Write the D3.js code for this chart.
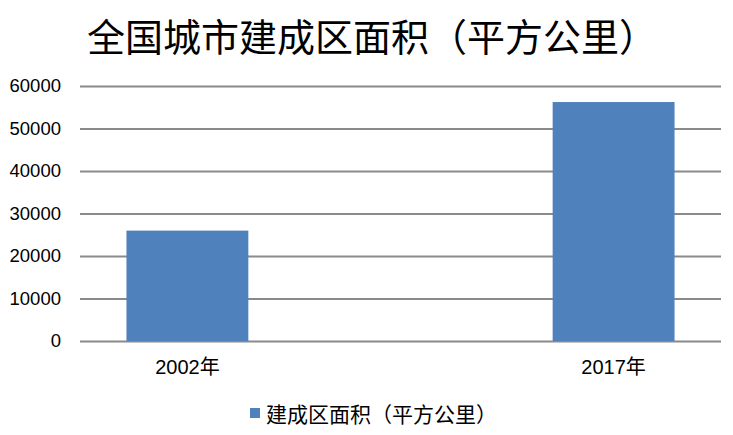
<!DOCTYPE html>
<html>
<head>
<meta charset="utf-8">
<script src="https://cdn.jsdelivr.net/npm/d3@7"></script>
<style>
	body { margin: 0; background: #fff; }
	svg { display: block; }
</style>
</head>
<body>
<div></div>
<script>
var title = "全国城市建成区面积（平方公里）",
	seriesName = "建成区面积（平方公里）",
	categories = ["2002年", "2017年"],
	areaValues = [25973, 56225],
	yTicks = [0, 10000, 20000, 30000, 40000, 50000, 60000];

var svgContainer,
	width = 733,
	height = 435,
	plot = { left: 80, right: 721, top: 86, bottom: 341 },
	barColor = "#4f81bd",
	gridColor = "#8a8a8a",
	latinFont = "'Liberation Sans', 'Noto Sans CJK SC', sans-serif",
	cjkFont = "'Noto Sans CJK SC', sans-serif";

function onLoad() {
	svgContainer = d3.select("div")
	.append("svg")
	.attr("width", width)
	.attr("height", height);

	svgContainer.append("rect")
	.attr("width", width)
	.attr("height", height)
	.attr("fill", "#fff");

	var xScale = d3.scaleBand()
	.domain(categories)
	.range([plot.left, plot.right])
	.paddingInner(0.714)
	.paddingOuter(0.109);

	var yScale = d3.scaleLinear()
	.domain([0, 60000])
	.range([plot.bottom, plot.top]);

	drawTitle();
	drawGrid(yScale);
	drawBars(xScale, yScale);
	drawAxes(xScale, yScale);
	drawLegend();
}

function drawTitle() {
	svgContainer.append("text")
	.attr("x", 87)
	.attr("y", 34)
	.attr("dominant-baseline", "central")
	.style("font-family", cjkFont)
	.style("font-size", "38px")
	.style("fill", "#000")
	.text(title);
}

function drawGrid(yScale) {
	var grid = svgContainer.append("g")
	.attr("transform", "translate(" + plot.left + ",0)")
	.call(d3.axisLeft(yScale)
		.tickValues(yTicks)
		.tickSize(-(plot.right - plot.left))
		.tickFormat(""));

	grid.select(".domain").remove();
	grid.selectAll("line")
	.attr("stroke", gridColor)
	.attr("stroke-width", 2);
}

function drawBars(xScale, yScale) {
	svgContainer.append("g")
	.selectAll("rect")
	.data(areaValues)
	.enter()
	.append("rect")
	.attr("x", (d, i) => xScale(categories[i]))
	.attr("y", d => yScale(d))
	.attr("width", xScale.bandwidth())
	.attr("height", d => yScale(0) - yScale(d))
	.attr("fill", barColor);
}

function drawAxes(xScale, yScale) {
	var yAxis = svgContainer.append("g")
	.attr("transform", "translate(" + plot.left + ",0)")
	.call(d3.axisLeft(yScale)
		.tickValues(yTicks)
		.tickSize(0)
		.tickPadding(19)
		.tickFormat(d3.format("d")));

	yAxis.select(".domain").remove();
	yAxis.selectAll("text")
	.style("font-family", latinFont)
	.style("font-size", "18.5px")
	.style("fill", "#000");

	var xAxis = svgContainer.append("g")
	.attr("transform", "translate(0," + plot.bottom + ")")
	.call(d3.axisBottom(xScale)
		.tickSize(0)
		.tickPadding(19));

	xAxis.select(".domain").remove();
	xAxis.selectAll("text")
	.style("font-family", latinFont)
	.style("font-size", "20px")
	.style("fill", "#000");
}

function drawLegend() {
	var legend = svgContainer.append("g")
	.attr("transform", "translate(250,408)");

	legend.append("rect")
	.attr("width", 10)
	.attr("height", 10)
	.attr("fill", barColor);

	legend.append("text")
	.attr("x", 16)
	.attr("y", 5)
	.attr("dominant-baseline", "central")
	.style("font-family", cjkFont)
	.style("font-size", "21px")
	.style("fill", "#000")
	.text(seriesName);
}

onLoad();
</script>
</body>
</html>
